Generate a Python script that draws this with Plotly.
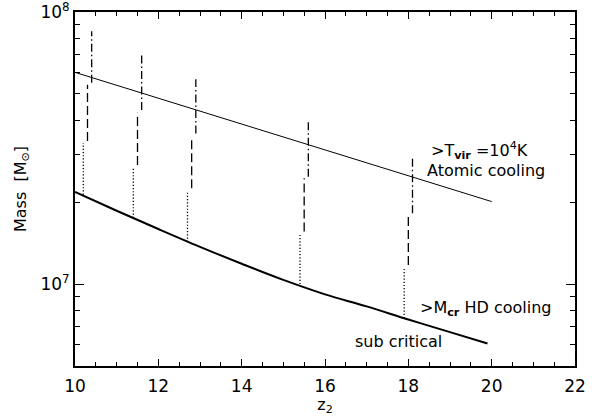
import numpy as np
import plotly.graph_objects as go

# ---- data ----
atomic_z = [10, 12, 14, 16, 18, 20]
atomic_m = [6.0e7, 4.82e7, 3.87e7, 3.12e7, 2.51e7, 2.01e7]

sub_z = [10.0, 11.0, 12.0, 13.0, 14.0, 15.0, 16.0, 17.0, 18.0, 19.0, 19.9]
sub_m = [2.18e7, 1.86e7, 1.594e7, 1.371e7, 1.188e7, 1.036e7, 9.17e6, 8.28e6, 7.41e6, 6.66e6, 6.05e6]

dot_z = [10.2, 11.4, 12.7, 15.4, 17.9]
dot_lo = [2.13e7, 1.75e7, 1.43e7, 1.00e7, 7.5e6]
dot_hi = [3.30e7, 2.69e7, 2.18e7, 1.53e7, 1.14e7]

dash_z = [10.3, 11.5, 12.8, 15.5, 18.0]
dash_lo = [3.36e7, 2.74e7, 2.25e7, 1.56e7, 1.175e7]
dash_hi = [5.4e7, 4.26e7, 3.43e7, 2.45e7, 1.80e7]

dd_z = [10.4, 11.6, 12.9, 15.6, 18.1]
dd_lo = [5.5e7, 4.36e7, 3.58e7, 2.48e7, 1.82e7]
dd_hi = [8.5e7, 6.95e7, 5.66e7, 3.95e7, 2.96e7]

x_ticks = [10, 12, 14, 16, 18, 20, 22]
y_ticks = [1e7, 1e8]
y_ticktext = ["10<sup>7</sup>", "10<sup>8</sup>"]
y_minor = [6e6, 7e6, 8e6, 9e6, 2e7, 3e7, 4e7, 5e7, 6e7, 7e7, 8e7, 9e7]

FONT = "DejaVu Sans"


def segments(zs, lo, hi):
    xs, ys = [], []
    for z, a, b in zip(zs, lo, hi):
        xs += [z, z, None]
        ys += [a, b, None]
    return xs, ys


fig = go.Figure()
fig.add_trace(go.Scatter(x=atomic_z, y=atomic_m, mode="lines",
                         line=dict(color="black", width=1.0), showlegend=False))
fig.add_trace(go.Scatter(x=sub_z, y=sub_m, mode="lines",
                         line=dict(color="black", width=2.0, shape="spline", smoothing=1.0),
                         showlegend=False))

for zs, lo, hi, dash in [(dot_z, dot_lo, dot_hi, "1.2px,2px"),
                         (dash_z, dash_lo, dash_hi, "9px,4px"),
                         (dd_z, dd_lo, dd_hi, "8px,3px,1.5px,3px")]:
    xs, ys = segments(zs, lo, hi)
    fig.add_trace(go.Scatter(x=xs, y=ys, mode="lines", connectgaps=False,
                             line=dict(color="black", width=1.3, dash=dash),
                             showlegend=False))

ann_font = dict(family=FONT, size=16, color="black")
fig.add_annotation(x=18.5, y=np.log10(3.1e7), xref="x", yref="y",
                   text=">T<sub><b>vir</b></sub> =10<sup>4</sup>K", showarrow=False,
                   xanchor="left", yanchor="middle", font=ann_font)
fig.add_annotation(x=18.4, y=np.log10(2.62e7), xref="x", yref="y",
                   text="Atomic cooling", showarrow=False,
                   xanchor="left", yanchor="middle", font=ann_font)
fig.add_annotation(x=18.22, y=np.log10(8.1e6), xref="x", yref="y",
                   text=">M<sub><b>cr</b></sub> HD cooling", showarrow=False,
                   xanchor="left", yanchor="middle", font=ann_font)
fig.add_annotation(x=16.68, y=np.log10(6.15e6), xref="x", yref="y",
                   text="sub critical", showarrow=False,
                   xanchor="left", yanchor="middle", font=ann_font)

fig.update_xaxes(range=[10, 22], tickmode="array", tickvals=x_ticks,
                 ticks="inside", ticklen=7, tickwidth=1.3, tickcolor="black",
                 minor=dict(dtick=0.5, tick0=10, ticks="inside", ticklen=4,
                            tickwidth=1.3, tickcolor="black", showgrid=False),
                 showline=True, linewidth=2, linecolor="black", mirror="allticks",
                 showgrid=False, zeroline=False, automargin=False,
                 ticklabelstandoff=4, ticklabeloverflow="allow",
                 tickfont=dict(family=FONT, size=17, color="black"),
                 title=dict(text="z<sub>2</sub>", font=dict(family=FONT, size=16, color="black"),
                            standoff=8))
fig.update_yaxes(type="log", range=[np.log10(5e6), 8], tickmode="array",
                 tickvals=y_ticks, ticktext=y_ticktext,
                 ticks="inside", ticklen=9, tickwidth=1.3, tickcolor="black",
                 minor=dict(tickmode="array", tickvals=y_minor, ticks="inside", ticklen=5,
                            tickwidth=1.3, tickcolor="black", showgrid=False),
                 showline=True, linewidth=2, linecolor="black", mirror="allticks",
                 showgrid=False, zeroline=False, automargin=False,
                 ticklabeloverflow="allow",
                 tickfont=dict(family=FONT, size=17, color="black"),
                 title=dict(text="Mass  [M<sub>⊙</sub>]",
                            font=dict(family=FONT, size=16, color="black"), standoff=10))

fig.update_layout(width=592, height=416, margin=dict(l=75, r=17, t=12, b=50),
                  plot_bgcolor="white", paper_bgcolor="white",
                  font=dict(family=FONT, size=16, color="black"))

fig.write_html("out.html", config={"displayModeBar": False},
               post_script="document.body.style.margin='0px';document.body.style.overflow='hidden';")
